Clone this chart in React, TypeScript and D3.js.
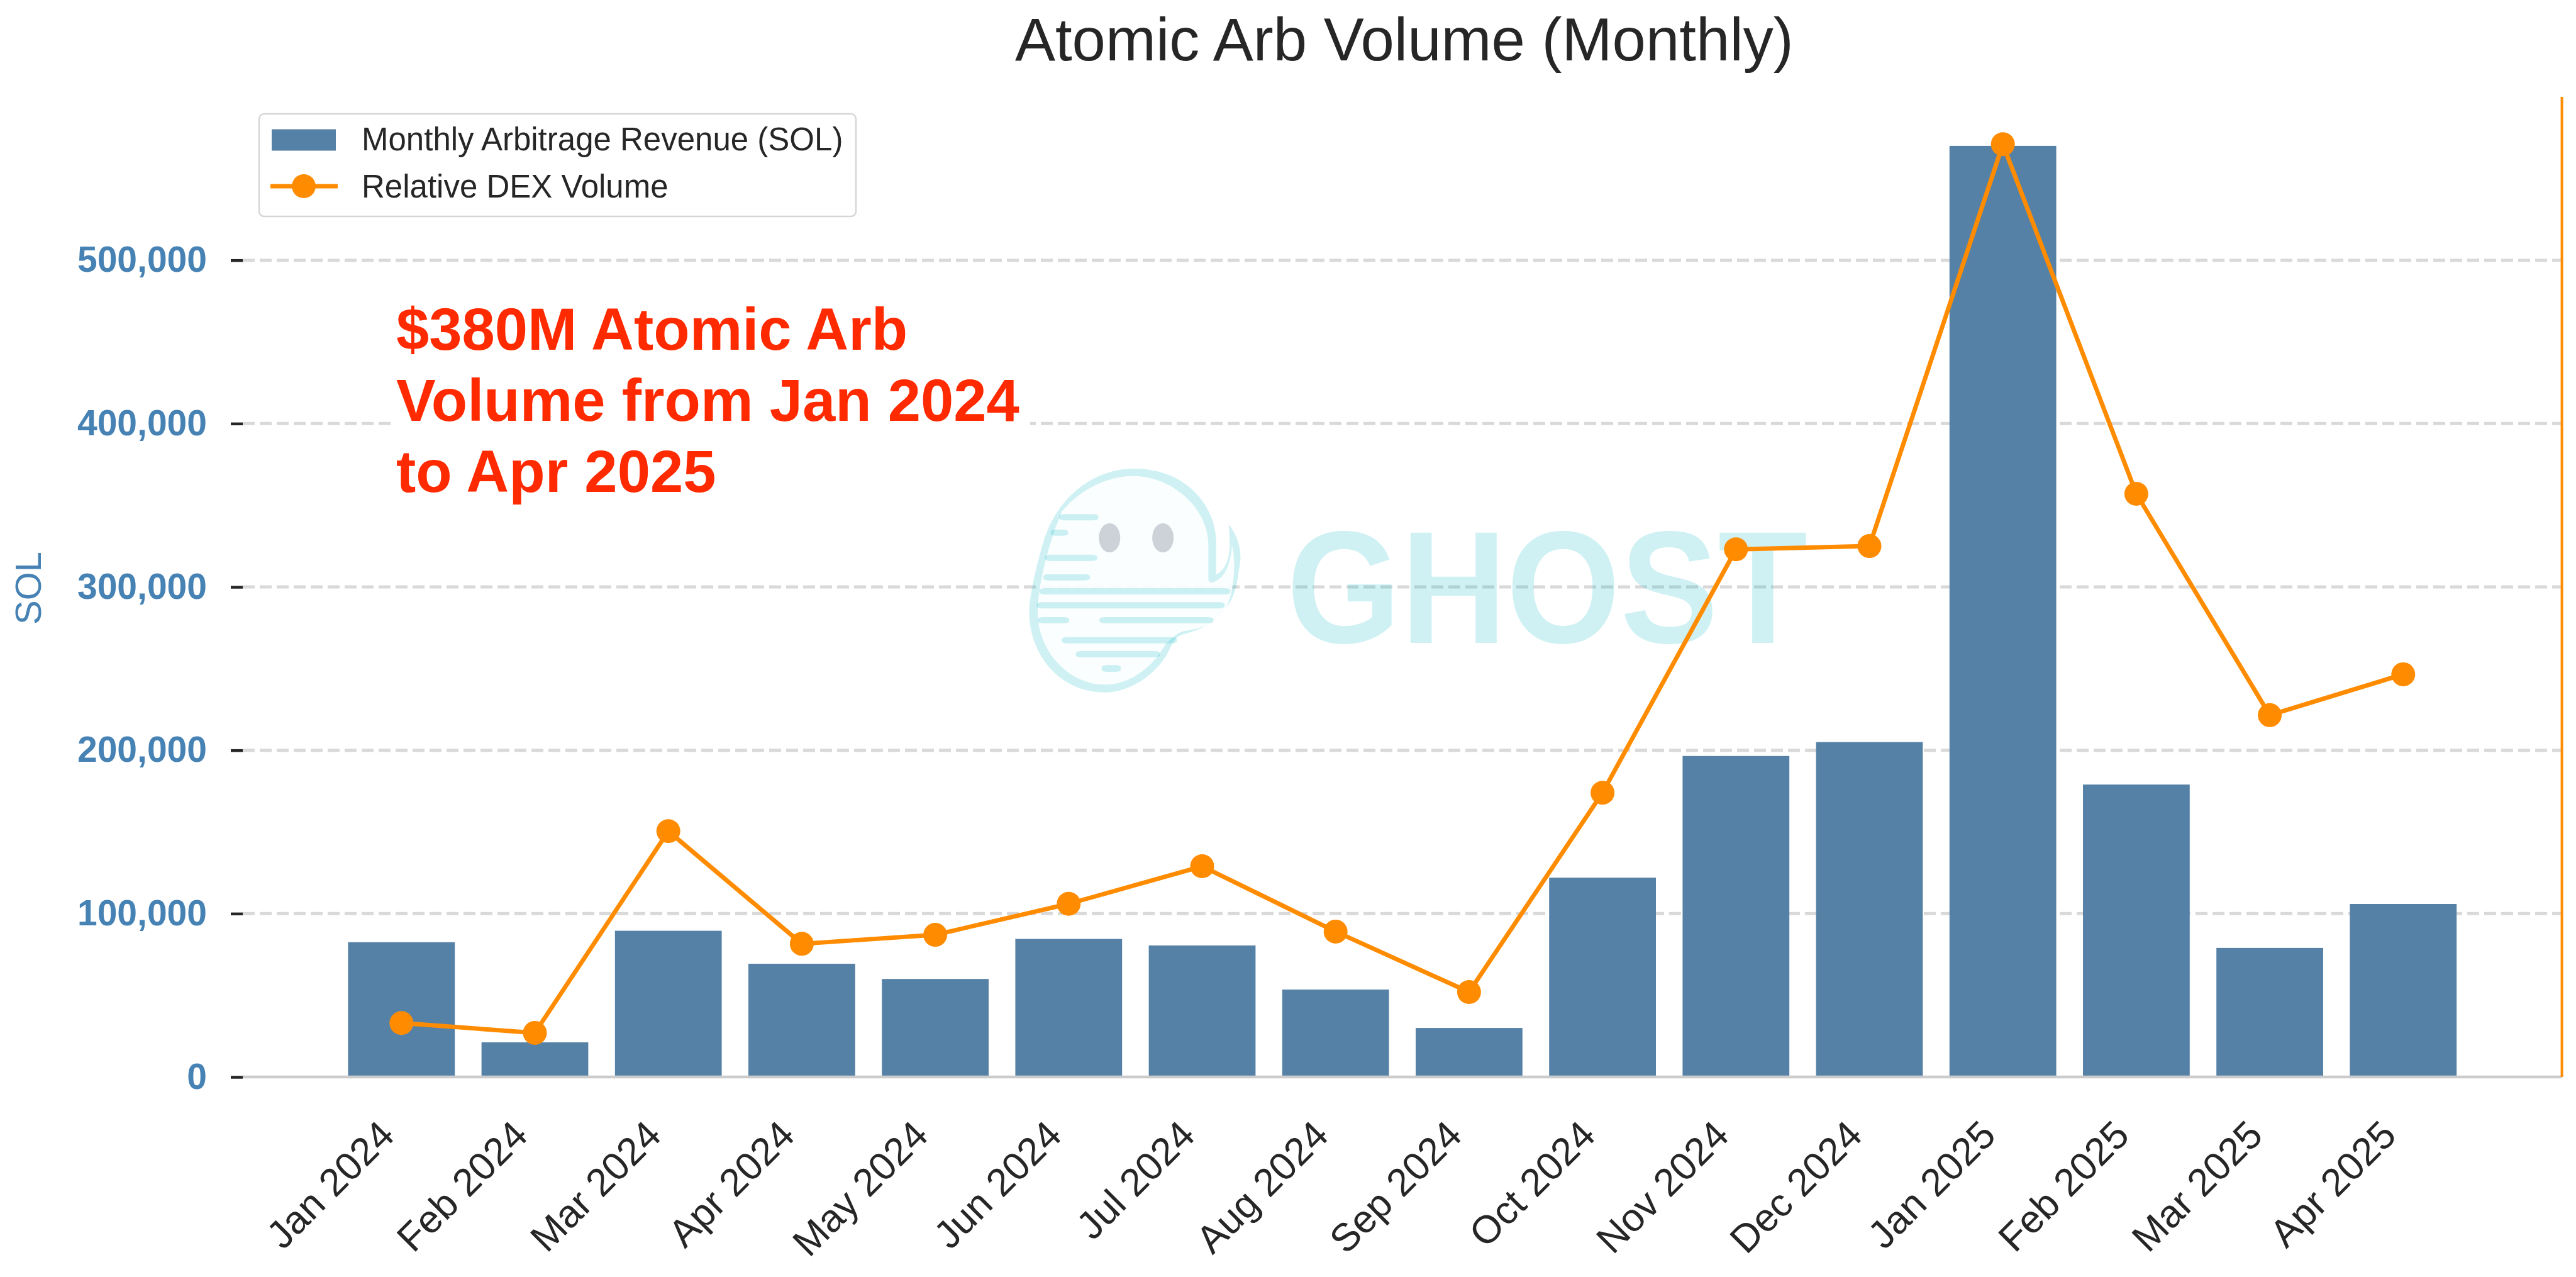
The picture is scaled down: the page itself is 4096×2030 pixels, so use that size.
import React, { useEffect, useRef } from 'react';
import * as d3 from 'd3';

const months = [
  'Jan 2024', 'Feb 2024', 'Mar 2024', 'Apr 2024', 'May 2024', 'Jun 2024', 'Jul 2024', 'Aug 2024',
  'Sep 2024', 'Oct 2024', 'Nov 2024', 'Dec 2024', 'Jan 2025', 'Feb 2025', 'Mar 2025', 'Apr 2025',
];
const revenue = [
  82500, 21200, 89500, 69300, 60000, 84500, 80500, 53500,
  30000, 122000, 196500, 205000, 570000, 179000, 79000, 105900,
];
const dexVolume = [
  33000, 27000, 150500, 81500, 87000, 106000, 129000, 89000,
  52000, 174000, 323000, 325000, 571000, 357000, 221500, 246500,
];
const yTicks = [0, 100000, 200000, 300000, 400000, 500000];
const annotationLines = ['$380M Atomic Arb', 'Volume from Jan 2024', 'to Apr 2025'];

const FONT = '"Liberation Sans", Arial, sans-serif';
const BLUE = '#4682B4';
const BAR = '#5581A6';
const ORANGE = '#FF8C00';
const DARK = '#262626';
const RED = '#FF2A00';
const CYAN = '#0FB8C8';

const left = 386;
const right = 4073.6;
const top = 154;
const bottom = 1712;

// watermark outline and stripes, in a local box that gets squeezed to fit
const ghostOuter =
  'M285,195 C375,195 430,370 430,550 L430,700 C450,670 458,610 452,460 C470,520 478,600 470,680 ' +
  'C466,800 450,930 372,985 C350,1000 350,1060 335,1110 C310,1200 270,1262 232,1262 ' +
  'C150,1262 97,1080 97,880 C97,800 110,650 125,520 C150,330 210,195 285,195 Z';
const ghostInner =
  'M282,230 C350,230 416,380 416,560 L416,720 C416,745 425,740 430,730 C445,710 456,650 458,560 ' +
  'C465,620 462,760 452,830 C445,900 425,950 372,970 C355,985 350,1010 340,1030 ' +
  'C325,1110 285,1225 232,1225 C165,1225 112,1060 112,880 C112,760 130,560 155,400 ' +
  'C185,300 235,230 282,230 Z';
const ghostStripes = [
  [150, 412, 220, 442],
  [135, 485, 166, 515],
  [125, 605, 218, 635],
  [122, 698, 205, 728],
  [115, 765, 455, 795],
  [110, 832, 445, 862],
  [112, 903, 168, 933],
  [222, 903, 425, 933],
  [155, 998, 360, 1028],
  [180, 1065, 330, 1095],
  [226, 1132, 260, 1164],
];

const App = () => {
  const svgRef = useRef<SVGSVGElement>(null);

  useEffect(() => {
    const svg = d3.select(svgRef.current);
    svg.selectAll('*').remove();

    const x = d3.scaleBand().domain(months).range([left, right]).paddingInner(0.2).paddingOuter(0.789);
    const y = d3.scaleLinear().domain([0, 600000]).range([bottom, top]);
    const cx = (m: string) => x(m)! + x.bandwidth() / 2;

    // grid
    svg.append('g')
      .selectAll('line')
      .data(yTicks.slice(1))
      .enter()
      .append('line')
      .attr('x1', left)
      .attr('x2', right)
      .attr('y1', d => y(d))
      .attr('y2', d => y(d))
      .attr('stroke', '#D9D9D9')
      .attr('stroke-width', 5)
      .attr('stroke-dasharray', '19,8');

    // bars
    svg.append('g')
      .selectAll('rect')
      .data(months)
      .enter()
      .append('rect')
      .attr('x', d => x(d)!)
      .attr('width', x.bandwidth())
      .attr('y', (d, i) => y(revenue[i]))
      .attr('height', (d, i) => bottom - y(revenue[i]))
      .attr('fill', BAR);

    // watermark
    const mark = svg.append('g');
    const ghost = mark.append('g').attr('transform', `translate(1550,680) scale(${1 / 1.12},${1 / 3})`);
    ghost.append('path').attr('d', ghostOuter).attr('fill', CYAN).attr('fill-opacity', 0.2);
    ghost.append('path').attr('d', ghostInner).attr('fill', '#ffffff').attr('fill-opacity', 0.9);
    ghost.selectAll('rect')
      .data(ghostStripes)
      .enter()
      .append('rect')
      .attr('x', d => d[0])
      .attr('y', d => d[1])
      .attr('width', d => d[2] - d[0])
      .attr('height', d => d[3] - d[1])
      .attr('rx', 10)
      .attr('fill', CYAN)
      .attr('fill-opacity', 0.2);
    ghost.selectAll('ellipse')
      .data([240, 335])
      .enter()
      .append('ellipse')
      .attr('cx', d => d)
      .attr('cy', 525)
      .attr('rx', 19)
      .attr('ry', 70)
      .attr('fill', '#1A2040')
      .attr('fill-opacity', 0.2);
    mark.append('text')
      .attr('x', 2046)
      .attr('y', 1022)
      .attr('textLength', 828)
      .attr('lengthAdjust', 'spacingAndGlyphs')
      .attr('font-family', FONT)
      .attr('font-weight', 700)
      .attr('font-size', 255)
      .attr('fill', CYAN)
      .attr('fill-opacity', 0.2)
      .text('GHOST');

    // spines
    svg.append('line')
      .attr('x1', left).attr('x2', right)
      .attr('y1', bottom).attr('y2', bottom)
      .attr('stroke', '#CCCCCC').attr('stroke-width', 4.5);
    svg.append('line')
      .attr('x1', right).attr('x2', right)
      .attr('y1', top).attr('y2', bottom)
      .attr('stroke', ORANGE).attr('stroke-width', 4);

    // y axis
    const yAxis = d3.axisLeft(y)
      .tickValues(yTicks)
      .tickSize(19)
      .tickPadding(38)
      .tickFormat(d => d3.format(',')(d as number));
    const yG = svg.append('g').attr('transform', `translate(${left},0)`).call(yAxis);
    yG.select('.domain').remove();
    yG.selectAll('.tick line').attr('stroke', DARK).attr('stroke-width', 4.5);
    yG.selectAll('.tick text')
      .attr('fill', BLUE)
      .attr('font-family', FONT)
      .attr('font-weight', 700)
      .attr('font-size', 57);

    // x axis
    const xAxis = d3.axisBottom(x).tickSize(0).tickPadding(0);
    const xG = svg.append('g').attr('transform', `translate(0,${bottom})`).call(xAxis);
    xG.select('.domain').remove();
    xG.selectAll('.tick text')
      .attr('fill', DARK)
      .attr('font-family', FONT)
      .attr('font-size', 62)
      .attr('text-anchor', 'end')
      .attr('dy', 0)
      .attr('y', 0)
      .attr('transform', 'translate(-8,96) rotate(-45)');

    // axis label and title
    svg.append('text')
      .attr('transform', 'translate(65,935) rotate(-90)')
      .attr('text-anchor', 'middle')
      .attr('font-family', FONT)
      .attr('font-size', 58)
      .attr('fill', BLUE)
      .text('SOL');
    svg.append('text')
      .attr('x', (left + right) / 2 + 3)
      .attr('y', 96)
      .attr('text-anchor', 'middle')
      .attr('font-family', FONT)
      .attr('font-size', 96)
      .attr('fill', DARK)
      .text('Atomic Arb Volume (Monthly)');

    // dex line
    const line = d3.line<number>()
      .x((d, i) => cx(months[i]))
      .y(d => y(d));
    svg.append('path')
      .datum(dexVolume)
      .attr('d', line)
      .attr('fill', 'none')
      .attr('stroke', ORANGE)
      .attr('stroke-width', 7)
      .attr('stroke-linejoin', 'round');
    svg.append('g')
      .selectAll('circle')
      .data(dexVolume)
      .enter()
      .append('circle')
      .attr('cx', (d, i) => cx(months[i]))
      .attr('cy', d => y(d))
      .attr('r', 19)
      .attr('fill', ORANGE);

    // annotation with its white box
    svg.append('rect')
      .attr('x', 624).attr('y', 470)
      .attr('width', 1014).attr('height', 335)
      .attr('fill', '#ffffff');
    svg.append('g')
      .selectAll('text')
      .data(annotationLines)
      .enter()
      .append('text')
      .attr('x', 630)
      .attr('y', (d, i) => 556 + i * 113)
      .attr('font-family', FONT)
      .attr('font-weight', 700)
      .attr('font-size', 94)
      .attr('fill', RED)
      .text(d => d);

    // legend
    const legend = svg.append('g');
    legend.append('rect')
      .attr('x', 412).attr('y', 181)
      .attr('width', 949).attr('height', 163)
      .attr('rx', 8)
      .attr('fill', '#ffffff').attr('fill-opacity', 0.8)
      .attr('stroke', '#D6D6D6').attr('stroke-width', 2.5);
    legend.append('rect')
      .attr('x', 432).attr('y', 205.5)
      .attr('width', 102).attr('height', 34)
      .attr('fill', BAR);
    legend.append('line')
      .attr('x1', 430).attr('x2', 537)
      .attr('y1', 296).attr('y2', 296)
      .attr('stroke', ORANGE).attr('stroke-width', 7);
    legend.append('circle')
      .attr('cx', 483).attr('cy', 296).attr('r', 19)
      .attr('fill', ORANGE);
    legend.selectAll('text')
      .data(['Monthly Arbitrage Revenue (SOL)', 'Relative DEX Volume'])
      .enter()
      .append('text')
      .attr('x', 575)
      .attr('y', (d, i) => 239 + i * 75)
      .attr('font-family', FONT)
      .attr('font-size', 51)
      .attr('fill', DARK)
      .text(d => d);
  }, []);

  return (
    <svg
      ref={svgRef}
      width={4096}
      height={2030}
      style={{ position: 'absolute', left: 0, top: 0, background: '#ffffff' }}
    />
  );
};

export default App;
